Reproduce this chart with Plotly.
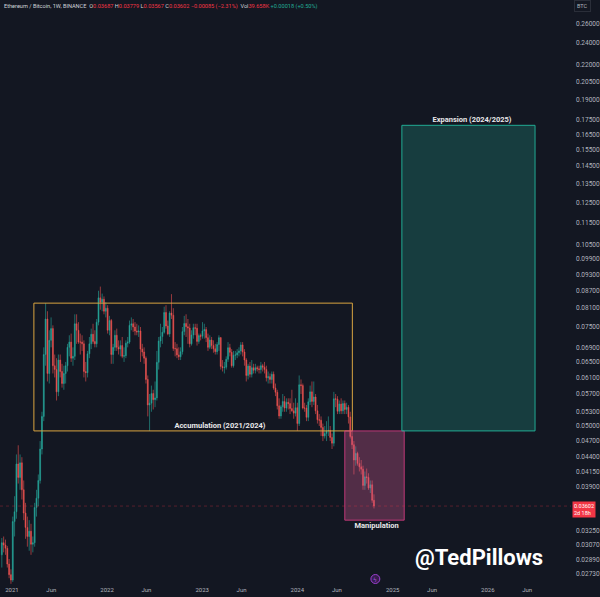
import math
import pandas as pd
import plotly.graph_objects as go

# ---------------- data (ETH/BTC weekly, Binance) ----------------
first_week = "2020-11-23"

opens = [
    .0295, .0310, .0307, .0303, .0284, .0272, .0266, .0338, .0352, .0428,
    .0405, .0430, .0385, .0350, .0330, .0318, .0325, .0308, .0310, .0358,
    .0372, .0400, .0455, .0520, .0670, .0775, .0620, .0710, .0745, .0640,
    .0630, .0575, .0655, .0625, .0595, .0620, .0640, .0690, .0705, .0660,
    .0665, .0760, .0740, .0705, .0705, .0700, .0625, .0622, .0672, .0700,
    .0728, .0707, .0700, .0765, .0845, .0830, .0840, .0800, .0810, .0740,
    .0770, .0670, .0690, .0725, .0690, .0685, .0695, .0665, .0667, .0702,
    .0705, .0755, .0760, .0750, .0738, .0735, .0738, .0685, .0677, .0660,
    .0605, .0545, .0549, .0571, .0557, .0561, .0649, .0708, .0721, .0734,
    .0796, .0753, .0729, .0794, .0787, .0687, .0686, .0669, .0664, .0678,
    .0736, .0761, .0751, .0747, .0700, .0726, .0748, .0746, .0707, .0724,
    .0722, .0738, .0742, .0718, .0690, .0711, .0695, .0686, .0678, .0698,
    .0718, .0638, .0635, .0636, .0657, .0689, .0676, .0640, .0668, .0669,
    .0675, .0680, .0697, .0677, .0655, .0615, .0639, .0618, .0635, .0628,
    .0635, .0632, .0630, .0640, .0636, .0630, .0609, .0612, .0605, .0618,
    .0584, .0574, .0543, .0521, .0541, .0553, .0538, .0551, .0548, .0537,
    .0532, .0527, .0539, .0505, .0592, .0590, .0538, .0538, .0518, .0552,
    .0575, .0553, .0563, .0532, .0513, .0512, .0497, .0480, .0485, .0490,
    .0491, .0477, .0466, .0559, .0558, .0531, .0547, .0532, .0548, .0535,
    .0540, .0519, .0479, .0463, .0435, .0447, .0429, .0423, .0419, .0392,
    .0406, .0405, .0388, .0393, .03687,
]
highs = [
    .0316, .0318, .0314, .0306, .0290, .0278, .0345, .0375, .0445, .0462,
    .0445, .0440, .0400, .0365, .0345, .0340, .0335, .0318, .0365, .0385,
    .0410, .0470, .0530, .0690, .0827, .0800, .0740, .0780, .0755, .0670,
    .0660, .0670, .0670, .0645, .0640, .0650, .0700, .0725, .0730, .0690,
    .0790, .0790, .0765, .0730, .0725, .0710, .0650, .0680, .0720, .0745,
    .0760, .0740, .0775, .0870, .0885, .0860, .0850, .0830, .0820, .0785,
    .0775, .0700, .0740, .0745, .0710, .0710, .0720, .0690, .0710, .0720,
    .0770, .0780, .0775, .0765, .0760, .0755, .0750, .0700, .0690, .0665,
    .0615, .0570, .0590, .0580, .0600, .0680, .0720, .0760, .0750, .0815,
    .0820, .0770, .0800, .0858, .0810, .0705, .0700, .0690, .0690, .0750,
    .0785, .0790, .0775, .0760, .0740, .0760, .0760, .0760, .0730, .0730,
    .0765, .0760, .0750, .0730, .0725, .0720, .0710, .0700, .0705, .0725,
    .0720, .0655, .0650, .0665, .0705, .0700, .0685, .0680, .0680, .0685,
    .0690, .0705, .0705, .0685, .0660, .0645, .0650, .0655, .0645, .0645,
    .0640, .0640, .0650, .0645, .0650, .0640, .0625, .0620, .0625, .0625,
    .0595, .0580, .0560, .0545, .0570, .0565, .0560, .0560, .0560, .0580,
    .0550, .0560, .0550, .0615, .0605, .0595, .0550, .0545, .0560, .0590,
    .0600, .0600, .0570, .0545, .0525, .0520, .0505, .0500, .0510, .0520,
    .0500, .0485, .0575, .0570, .0565, .0555, .0560, .0555, .0555, .0550,
    .0545, .0530, .0490, .0470, .0460, .0450, .0440, .0435, .0425, .0415,
    .0420, .0412, .0400, .0400, .03779,
]
lows = [
    .0280, .0298, .0295, .0280, .0268, .0262, .0264, .0318, .0342, .0395,
    .0385, .0370, .0340, .0315, .0305, .0300, .0295, .0298, .0305, .0345,
    .0360, .0395, .0445, .0510, .0640, .0600, .0595, .0690, .0620, .0610,
    .0555, .0565, .0610, .0585, .0580, .0595, .0625, .0665, .0650, .0640,
    .0655, .0700, .0700, .0670, .0680, .0610, .0600, .0610, .0660, .0685,
    .0700, .0690, .0690, .0755, .0805, .0800, .0790, .0780, .0730, .0725,
    .0645, .0645, .0680, .0680, .0670, .0665, .0660, .0650, .0660, .0690,
    .0700, .0740, .0735, .0725, .0725, .0720, .0650, .0665, .0645, .0595,
    .0520, .0490, .0530, .0535, .0540, .0555, .0630, .0690, .0700, .0730,
    .0745, .0725, .0720, .0775, .0680, .0665, .0660, .0655, .0655, .0670,
    .0725, .0720, .0700, .0690, .0695, .0715, .0725, .0695, .0700, .0710,
    .0715, .0715, .0705, .0680, .0685, .0685, .0675, .0670, .0670, .0680,
    .0630, .0625, .0620, .0630, .0650, .0665, .0635, .0635, .0655, .0660,
    .0665, .0670, .0665, .0640, .0600, .0605, .0610, .0610, .0620, .0620,
    .0625, .0620, .0620, .0625, .0620, .0600, .0595, .0595, .0595, .0580,
    .0565, .0535, .0515, .0515, .0530, .0530, .0530, .0535, .0525, .0530,
    .0515, .0520, .0490, .0500, .0570, .0535, .0530, .0510, .0510, .0545,
    .0540, .0545, .0525, .0505, .0500, .0480, .0470, .0475, .0470, .0480,
    .0470, .0455, .0460, .0540, .0525, .0525, .0525, .0525, .0525, .0525,
    .0505, .0475, .0455, .0410, .0425, .0425, .0415, .0410, .0385, .0385,
    .0395, .0385, .0380, .0365, .03567,
]
closes = [
    .0310, .0307, .0303, .0284, .0272, .0266, .0338, .0352, .0428, .0405,
    .0430, .0385, .0350, .0330, .0318, .0325, .0308, .0310, .0358, .0372,
    .0400, .0455, .0520, .0670, .0775, .0620, .0710, .0745, .0640, .0630,
    .0575, .0655, .0625, .0595, .0620, .0640, .0690, .0705, .0660, .0665,
    .0760, .0740, .0705, .0705, .0700, .0625, .0622, .0672, .0700, .0728,
    .0707, .0700, .0765, .0845, .0830, .0840, .0800, .0810, .0740, .0770,
    .0670, .0690, .0725, .0690, .0685, .0695, .0665, .0667, .0702, .0705,
    .0755, .0760, .0750, .0738, .0735, .0738, .0685, .0677, .0660, .0605,
    .0545, .0549, .0571, .0557, .0561, .0649, .0708, .0721, .0734, .0796,
    .0753, .0729, .0794, .0787, .0687, .0686, .0669, .0664, .0678, .0736,
    .0761, .0751, .0747, .0700, .0726, .0748, .0746, .0707, .0724, .0722,
    .0738, .0742, .0718, .0690, .0711, .0695, .0686, .0678, .0698, .0718,
    .0638, .0635, .0636, .0657, .0689, .0676, .0640, .0668, .0669, .0675,
    .0680, .0697, .0677, .0655, .0615, .0639, .0618, .0635, .0628, .0635,
    .0632, .0630, .0640, .0636, .0630, .0609, .0612, .0605, .0618, .0584,
    .0574, .0543, .0521, .0541, .0553, .0538, .0551, .0548, .0537, .0532,
    .0527, .0539, .0505, .0592, .0590, .0538, .0538, .0518, .0552, .0575,
    .0553, .0563, .0532, .0513, .0512, .0497, .0480, .0485, .0490, .0491,
    .0477, .0466, .0559, .0558, .0531, .0547, .0532, .0548, .0535, .0540,
    .0519, .0479, .0463, .0435, .0447, .0429, .0423, .0419, .0392, .0406,
    .0405, .0388, .0393, .03687, .03602,
]

# zones drawn on the chart
zone_names = ["Accumulation (2021/2024)", "Manipulation", "Expansion (2024/2025)"]
zone_start = ["2021-03-26", "2024-07-01", "2025-02-05"]
zone_end = ["2024-07-30", "2025-02-14", "2026-07-01"]
zone_low = [0.0490, 0.0340, 0.0490]
zone_high = [0.0827, 0.0490, 0.1713]
zone_label_x = ["2023-03-10", "2024-10-31", "2025-11-01"]
zone_label_y = [0.0500, 0.0332, 0.1749]

# axes
x_range = ["2020-11-16", "2026-11-16"]
y_min, y_max = 0.02607, 0.2862
price_ticks = [0.0273, 0.0289, 0.0307, 0.0325, 0.039, 0.0415, 0.044,
               0.047, 0.050, 0.053, 0.057, 0.061, 0.065, 0.069, 0.075, 0.081, 0.087,
               0.093, 0.099, 0.105, 0.115, 0.125, 0.135, 0.145, 0.155, 0.165, 0.175,
               0.190, 0.205, 0.220, 0.240, 0.260]
time_ticks = ["2021-01-01", "2021-06-01", "2022-01-01", "2022-06-01", "2023-01-01",
              "2023-06-01", "2024-01-01", "2024-06-01", "2025-01-01", "2025-06-01",
              "2026-01-01", "2026-06-01"]
time_labels = ["2021", "Jun", "2022", "Jun", "2023", "Jun", "2024", "Jun", "2025",
               "Jun", "2026", "Jun"]

# ---------------- styling ----------------
BG = "#131722"
UP = "#26a69a"
DOWN = "#ef5350"
AXIS_TXT = "#b2b5be"
FONT = "Roboto"

zone_fill = ["rgba(0,0,0,0)", "rgba(214,92,150,0.33)", "rgba(34,171,148,0.26)"]
zone_line = ["#d9a441", "rgba(214,60,130,0.85)", "#22ab94"]

weeks = pd.date_range(first_week, periods=len(closes), freq="7D")

fig = go.Figure()

for i in range(len(zone_names)):
    fig.add_trace(go.Scatter(
        x=[zone_start[i], zone_end[i], zone_end[i], zone_start[i], zone_start[i]],
        y=[zone_low[i], zone_low[i], zone_high[i], zone_high[i], zone_low[i]],
        mode="lines", fill="toself", fillcolor=zone_fill[i],
        line=dict(color=zone_line[i], width=1), hoverinfo="skip"))

fig.add_trace(go.Scatter(
    x=x_range, y=[closes[-1], closes[-1]], mode="lines",
    line=dict(color="rgba(242,54,69,0.30)", width=1, dash="dot"), hoverinfo="skip"))

fig.add_trace(go.Candlestick(
    x=weeks, open=opens, high=highs, low=lows, close=closes,
    increasing=dict(line=dict(color=UP, width=0.6), fillcolor=UP),
    decreasing=dict(line=dict(color=DOWN, width=0.6), fillcolor=DOWN),
    whiskerwidth=0, hoverinfo="skip"))

fig.add_trace(go.Scatter(
    x=zone_label_x, y=zone_label_y, mode="text", text=zone_names,
    textfont=dict(family=FONT, size=7.5, color="#e8e8ea", weight="bold"),
    hoverinfo="skip"))

header = (
    '<span style="color:#d1d4dc">Ethereum / Bitcoin, 1W, BINANCE</span>  '
    '<span style="color:#d1d4dc">O</span><span style="color:#f23645">0.03687</span> '
    '<span style="color:#d1d4dc">H</span><span style="color:#f23645">0.03779</span> '
    '<span style="color:#d1d4dc">L</span><span style="color:#f23645">0.03567</span> '
    '<span style="color:#d1d4dc">C</span><span style="color:#f23645">0.03602</span> '
    '<span style="color:#f23645">\u22120.00085 (\u22122.31%)</span>  '
    '<span style="color:#d1d4dc">Vol</span><span style="color:#f23645">39.658K</span> '
    '<span style="color:#22ab94">+0.00018 (+0.50%)</span>'
)

annotations = [
    dict(text=header, xref="paper", yref="paper", x=0.004, y=1, xanchor="left",
         yanchor="top", yshift=-1, showarrow=False,
         font=dict(family=FONT, size=5.6, color="#d1d4dc")),
    dict(text="BTC", xref="paper", yref="paper", x=1, y=1, xanchor="left",
         yanchor="top", xshift=3, showarrow=False, bgcolor=BG,
         bordercolor="#2a2e39", borderwidth=1, borderpad=2,
         font=dict(family=FONT, size=5.5, color=AXIS_TXT)),
    dict(text="0.03602<br>2d 18h", xref="paper", yref="y", x=1,
         y=math.log10(closes[-1]), xanchor="left", yanchor="middle", xshift=1,
         yshift=-3, showarrow=False, bgcolor="#f23645", borderpad=1, align="left",
         font=dict(family=FONT, size=5.5, color="#ffffff")),
    dict(text="@TedPillows", xref="paper", yref="paper", x=482 / 575, y=1 - 557 / 585,
         xanchor="center", yanchor="middle", showarrow=False,
         font=dict(family=FONT, size=22, color="#ffffff", weight="bold")),
    dict(text="\u03df", xref="paper", yref="paper", x=378 / 575, y=1 - 579 / 585,
         xanchor="center", yanchor="middle", showarrow=False,
         font=dict(family="DejaVu Sans", size=6, color="#b04be0")),
]

shapes = [
    dict(type="circle", xref="paper", yref="paper",
         x0=373.5 / 575, x1=382.5 / 575, y0=1 - 583.5 / 585, y1=1 - 574.5 / 585,
         line=dict(color="#9c3fd0", width=1), fillcolor="rgba(120,40,160,0.35)"),
]

fig.update_layout(
    width=600, height=597,
    margin=dict(l=0, r=25, t=0, b=12, pad=0),
    paper_bgcolor=BG, plot_bgcolor=BG,
    showlegend=False, hovermode=False,
    annotations=annotations, shapes=shapes,
    xaxis=dict(type="date", range=x_range, showgrid=False, zeroline=False,
               rangeslider=dict(visible=False), tickvals=time_ticks,
               ticktext=time_labels, ticks="", showline=False,
               tickfont=dict(family=FONT, size=6, color=AXIS_TXT)),
    yaxis=dict(type="log", range=[math.log10(y_min), math.log10(y_max)],
               side="right", showgrid=False, zeroline=False, ticks="",
               tickvals=price_ticks, tickformat=".5f", showline=False,
               ticklabelstandoff=4,
               tickfont=dict(family=FONT, size=6.5, color=AXIS_TXT)),
)

fig.write_html("out.html")
